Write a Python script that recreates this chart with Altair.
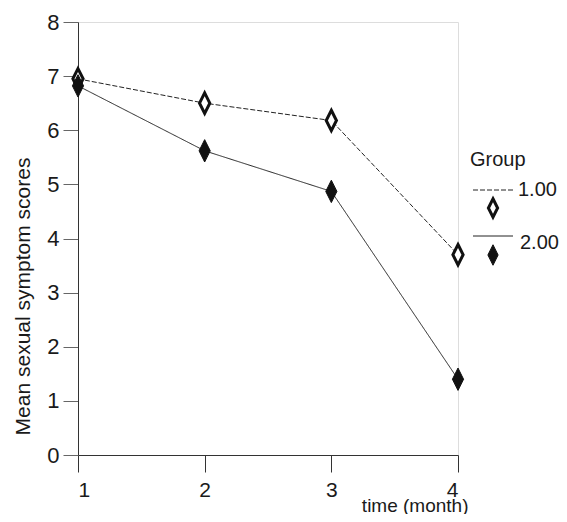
import altair as alt
import pandas as pd

# ---- data ----
time_months = [1, 2, 3, 4]
group_labels = ["1.00", "2.00"]
group1_scores = [6.95, 6.50, 6.18, 3.70]
group2_scores = [6.82, 5.62, 4.87, 1.40]
y_ticks = [0, 1, 2, 3, 4, 5, 6, 7, 8]

rows = []
for t, v in zip(time_months, group1_scores):
    rows.append({"time": t, "score": v, "group": group_labels[0]})
for t, v in zip(time_months, group2_scores):
    rows.append({"time": t, "score": v, "group": group_labels[1]})
df = pd.DataFrame(rows)

FONT = "Liberation Sans"
INK = "#1a1a1a"
DIAMOND = "M0,-1L0.5,0L0,1L-0.5,0Z"

x_enc = alt.X(
    "time:Q",
    scale=alt.Scale(domain=[1, 4], nice=False, zero=False),
    axis=alt.Axis(
        values=time_months, format="d", tickSize=17, labelPadding=7,
        labelFontSize=21, labelFont=FONT, labelColor=INK,
        domainColor="#333", tickColor="#333", grid=False,
        title="time (month)", titleFont=FONT, titleFontSize=19,
        titleFontWeight="normal", titleColor=INK,
        titleX=390, titleY=56, titleAlign="right", titleBaseline="alphabetic",
    ),
)
y_enc = alt.Y(
    "score:Q",
    scale=alt.Scale(domain=[0, 8], nice=False),
    axis=alt.Axis(
        values=y_ticks, format="d", tickSize=15, labelPadding=4,
        labelFontSize=22, labelFont=FONT, labelColor=INK,
        domainColor="#333", tickColor="#666", grid=False,
        title="Mean sexual symptom scores", titleFont=FONT, titleFontSize=21,
        titleFontWeight="normal", titleColor=INK, titleAngle=270,
        titleX=-55, titleY=274, titleAlign="center", titleBaseline="middle",
    ),
)

base = alt.Chart(df)

lines = base.mark_line(strokeWidth=1, color="#222").encode(
    x=x_enc, y=y_enc,
    strokeDash=alt.StrokeDash(
        "group:N",
        scale=alt.Scale(domain=group_labels, range=[[5, 2], [1, 0]]),
        legend=None,
    ),
    detail="group:N",
)

open_pts = base.transform_filter(alt.datum.group == group_labels[0]).mark_point(
    shape=DIAMOND, size=420, filled=True, fill="white", stroke="#111",
    strokeWidth=3, opacity=1,
).encode(x="time:Q", y="score:Q")

filled_pts = base.transform_filter(alt.datum.group == group_labels[1]).mark_point(
    shape=DIAMOND, size=500, filled=True, fill="#111", stroke="#111",
    strokeWidth=1, opacity=1,
).encode(x="time:Q", y="score:Q")

# ---- hand-made legend (as in the reference) ----
one = alt.Chart(pd.DataFrame({"a": [0]}))
leg_title = one.mark_text(align="left", baseline="middle", font=FONT,
                          fontSize=20, color=INK).encode(
    x=alt.value(392), y=alt.value(138), text=alt.value("Group"))
leg_line1 = one.mark_rule(strokeWidth=1, color="#222", strokeDash=[5, 2]).encode(
    x=alt.value(395), x2=alt.value(435), y=alt.value(168))
leg_text1 = one.mark_text(align="left", baseline="middle", font=FONT,
                          fontSize=20, color=INK).encode(
    x=alt.value(440), y=alt.value(168), text=alt.value(group_labels[0]))
leg_pt1 = one.mark_point(shape=DIAMOND, size=340, filled=True, fill="white",
                         stroke="#111", strokeWidth=3, opacity=1).encode(
    x=alt.value(415), y=alt.value(186))
leg_line2 = one.mark_rule(strokeWidth=1, color="#222").encode(
    x=alt.value(395), x2=alt.value(435), y=alt.value(214))
leg_text2 = one.mark_text(align="left", baseline="middle", font=FONT,
                          fontSize=20, color=INK).encode(
    x=alt.value(442), y=alt.value(221), text=alt.value(group_labels[1]))
leg_pt2 = one.mark_point(shape=DIAMOND, size=420, filled=True, fill="#111",
                         stroke="#111", strokeWidth=1, opacity=1).encode(
    x=alt.value(415), y=alt.value(233))

chart = alt.layer(
    lines, open_pts, filled_pts,
    leg_title, leg_line1, leg_text1, leg_pt1, leg_line2, leg_text2, leg_pt2,
).properties(
    width=380, height=433,
    autosize=alt.AutoSizeParams(type="none"),
    padding={"left": 70, "top": 14, "right": 101, "bottom": 59},
).configure_view(
    stroke="#333", strokeWidth=1,
).configure(background="white")

chart.save("out.html", embed_options={"renderer": "svg", "actions": False})
